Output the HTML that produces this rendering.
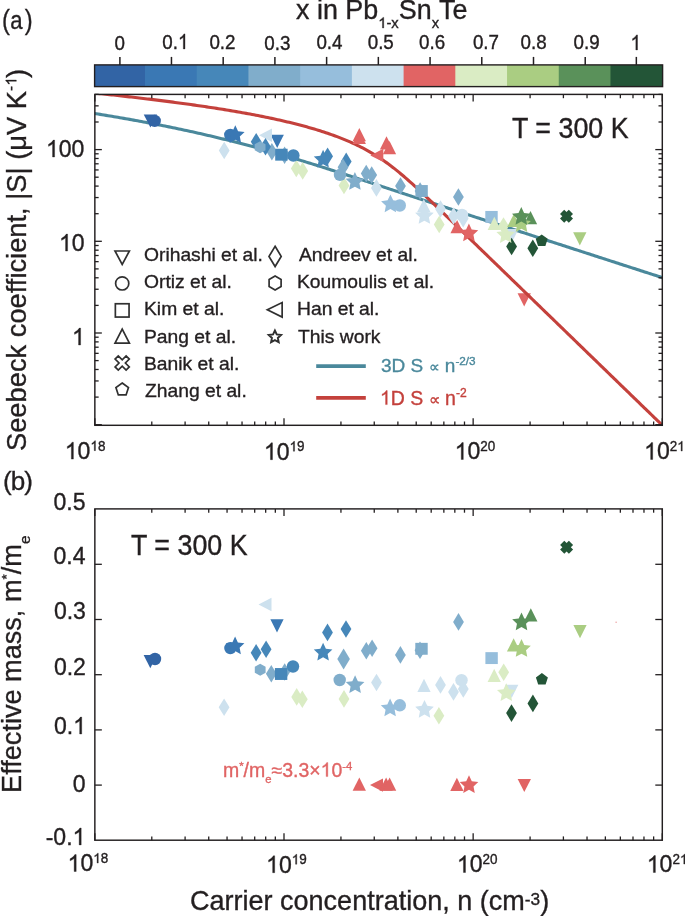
<!DOCTYPE html>
<html><head><meta charset="utf-8"><style>
html,body{margin:0;padding:0;background:#fff;}
svg{display:block;will-change:transform;font-family:"Liberation Sans",sans-serif;}
</style></head><body>
<svg width="685" height="916" viewBox="0 0 685 916" style='font-family:"Liberation Sans",sans-serif;'>
<rect width="685" height="916" fill="#fff"/>
<rect x="94.60" y="64.90" width="51.40" height="21.70" fill="#3264a5"/>
<rect x="145.00" y="64.90" width="52.72" height="21.70" fill="#3a78b4"/>
<rect x="196.72" y="64.90" width="52.72" height="21.70" fill="#4687b9"/>
<rect x="248.44" y="64.90" width="52.72" height="21.70" fill="#80adcb"/>
<rect x="300.16" y="64.90" width="52.72" height="21.70" fill="#96bedc"/>
<rect x="351.88" y="64.90" width="52.72" height="21.70" fill="#cde1ee"/>
<rect x="403.60" y="64.90" width="52.72" height="21.70" fill="#e16464"/>
<rect x="455.32" y="64.90" width="52.72" height="21.70" fill="#daecc4"/>
<rect x="507.04" y="64.90" width="52.72" height="21.70" fill="#aacd82"/>
<rect x="558.76" y="64.90" width="52.72" height="21.70" fill="#5a915a"/>
<rect x="610.48" y="64.90" width="52.12" height="21.70" fill="#235537"/>
<rect x="94.60" y="64.90" width="568.00" height="21.70" fill="none" stroke="#231f20" stroke-width="1.4"/>
<line x1="119.90" y1="56.90" x2="119.90" y2="64.90" stroke="#231f20" stroke-width="1.5"/>
<line x1="171.46" y1="56.90" x2="171.46" y2="64.90" stroke="#231f20" stroke-width="1.5"/>
<line x1="223.18" y1="56.90" x2="223.18" y2="64.90" stroke="#231f20" stroke-width="1.5"/>
<line x1="274.90" y1="56.90" x2="274.90" y2="64.90" stroke="#231f20" stroke-width="1.5"/>
<line x1="326.62" y1="56.90" x2="326.62" y2="64.90" stroke="#231f20" stroke-width="1.5"/>
<line x1="378.34" y1="56.90" x2="378.34" y2="64.90" stroke="#231f20" stroke-width="1.5"/>
<line x1="430.06" y1="56.90" x2="430.06" y2="64.90" stroke="#231f20" stroke-width="1.5"/>
<line x1="481.78" y1="56.90" x2="481.78" y2="64.90" stroke="#231f20" stroke-width="1.5"/>
<line x1="533.50" y1="56.90" x2="533.50" y2="64.90" stroke="#231f20" stroke-width="1.5"/>
<line x1="585.22" y1="56.90" x2="585.22" y2="64.90" stroke="#231f20" stroke-width="1.5"/>
<line x1="636.34" y1="56.90" x2="636.34" y2="64.90" stroke="#231f20" stroke-width="1.5"/>
<clipPath id="clipA"><rect x="94.85" y="94.4" width="567.4499999999999" height="330.9"/></clipPath><g clip-path="url(#clipA)" fill="none" stroke-linejoin="round"><path d="M66.58,109.25 L68.55,109.54 L70.53,109.83 L72.51,110.12 L74.49,110.41 L76.46,110.71 L78.44,111.00 L80.41,111.30 L82.39,111.60 L84.36,111.90 L86.34,112.21 L88.32,112.51 L90.29,112.82 L92.26,113.13 L94.24,113.44 L96.21,113.75 L98.18,114.07 L100.16,114.39 L102.13,114.71 L104.10,115.03 L106.07,115.35 L108.05,115.68 L110.02,116.00 L111.99,116.33 L113.96,116.67 L115.93,117.00 L117.90,117.34 L119.87,117.67 L121.84,118.01 L123.81,118.35 L125.77,118.70 L127.74,119.05 L129.71,119.40 L131.68,119.75 L133.64,120.10 L135.61,120.46 L137.57,120.82 L139.54,121.18 L141.50,121.54 L143.47,121.90 L145.43,122.28 L147.40,122.65 L149.36,123.02 L151.32,123.39 L153.29,123.77 L155.25,124.15 L157.21,124.53 L159.17,124.92 L161.13,125.31 L163.09,125.69 L165.05,126.09 L167.01,126.48 L168.97,126.88 L170.92,127.28 L172.88,127.69 L174.84,128.09 L176.79,128.50 L178.75,128.91 L180.70,129.32 L182.66,129.74 L184.61,130.16 L186.57,130.58 L188.52,131.01 L190.47,131.43 L192.42,131.86 L194.37,132.29 L196.32,132.73 L198.27,133.17 L200.22,133.61 L202.17,134.05 L204.12,134.50 L206.06,134.95 L208.01,135.40 L209.96,135.86 L211.90,136.31 L213.85,136.77 L215.79,137.24 L217.73,137.70 L219.68,138.17 L221.62,138.65 L223.56,139.12 L225.50,139.60 L227.44,140.08 L229.38,140.56 L231.32,141.05 L233.25,141.54 L235.19,142.03 L237.13,142.52 L239.06,143.02 L241.00,143.52 L242.93,144.03 L244.86,144.53 L246.79,145.04 L248.73,145.56 L250.66,146.07 L252.59,146.59 L254.52,147.11 L256.44,147.63 L258.37,148.16 L260.30,148.69 L262.23,149.22 L264.15,149.75 L266.08,150.29 L268.00,150.83 L269.92,151.37 L271.85,151.91 L273.77,152.46 L275.69,153.01 L277.61,153.56 L279.53,154.12 L281.45,154.67 L283.37,155.23 L285.28,155.80 L287.20,156.36 L289.12,156.93 L291.03,157.50 L292.95,158.07 L294.86,158.64 L296.78,159.22 L298.69,159.79 L300.60,160.37 L302.51,160.96 L304.42,161.54 L306.33,162.13 L308.24,162.71 L310.15,163.30 L312.06,163.89 L313.97,164.49 L315.88,165.08 L317.79,165.68 L319.69,166.28 L321.60,166.88 L323.50,167.48 L325.41,168.08 L327.31,168.69 L329.22,169.29 L331.12,169.90 L333.02,170.51 L334.93,171.12 L336.83,171.73 L338.73,172.34 L340.63,172.95 L342.54,173.57 L344.44,174.18 L346.34,174.80 L348.24,175.42 L350.14,176.03 L352.04,176.65 L353.94,177.27 L355.84,177.89 L357.74,178.51 L359.64,179.13 L361.54,179.75 L363.44,180.38 L365.33,181.00 L367.23,181.62 L369.13,182.24 L371.03,182.87 L372.93,183.49 L374.83,184.12 L376.73,184.74 L378.62,185.36 L380.52,185.99 L382.42,186.61 L384.32,187.24 L386.22,187.86 L388.11,188.49 L390.01,189.11 L391.91,189.74 L393.81,190.36 L395.71,190.99 L397.60,191.61 L399.50,192.24 L401.40,192.86 L403.30,193.49 L405.20,194.11 L407.09,194.74 L408.99,195.36 L410.89,195.99 L412.79,196.61 L414.69,197.23 L416.59,197.86 L418.48,198.48 L420.38,199.10 L422.28,199.73 L424.18,200.35 L426.08,200.97 L427.98,201.60 L429.88,202.22 L431.78,202.84 L433.67,203.46 L435.57,204.08 L437.47,204.71 L439.37,205.33 L441.27,205.95 L443.17,206.57 L445.07,207.19 L446.97,207.81 L448.87,208.43 L450.77,209.05 L452.67,209.67 L454.57,210.29 L456.47,210.91 L458.37,211.53 L460.27,212.15 L462.17,212.77 L464.07,213.39 L465.97,214.01 L467.87,214.63 L469.77,215.25 L471.67,215.87 L473.57,216.48 L475.47,217.10 L477.37,217.72 L479.27,218.34 L481.17,218.96 L483.07,219.58 L484.97,220.19 L486.87,220.81 L488.77,221.43 L490.67,222.05 L492.57,222.66 L494.47,223.28 L496.37,223.90 L498.27,224.52 L500.17,225.13 L502.07,225.75 L503.97,226.37 L505.87,226.98 L507.77,227.60 L509.68,228.22 L511.58,228.83 L513.48,229.45 L515.38,230.07 L517.28,230.68 L519.18,231.30 L521.08,231.92 L522.98,232.53 L524.88,233.15 L526.78,233.77 L528.68,234.38 L530.58,235.00 L532.49,235.61 L534.39,236.23 L536.29,236.85 L538.19,237.46 L540.09,238.08 L541.99,238.69 L543.89,239.31 L545.79,239.93 L547.69,240.54 L549.59,241.16 L551.50,241.77 L553.40,242.39 L555.30,243.00 L557.20,243.62 L559.10,244.24 L561.00,244.85 L562.90,245.47 L564.80,246.08 L566.70,246.70 L568.61,247.31 L570.51,247.93 L572.41,248.54 L574.31,249.16 L576.21,249.77 L578.11,250.39 L580.01,251.00 L581.91,251.62 L583.81,252.23 L585.72,252.85 L587.62,253.47 L589.52,254.08 L591.42,254.70 L593.32,255.31 L595.22,255.93 L597.12,256.54 L599.02,257.16 L600.93,257.77 L602.83,258.39 L604.73,259.00 L606.63,259.62 L608.53,260.23 L610.43,260.85 L612.33,261.46 L614.23,262.08 L616.14,262.69 L618.04,263.31 L619.94,263.92 L621.84,264.54 L623.74,265.15 L625.64,265.77 L627.54,266.38 L629.45,267.00 L631.35,267.61 L633.25,268.22 L635.15,268.84 L637.05,269.45 L638.95,270.07 L640.85,270.68 L642.75,271.30 L644.66,271.91 L646.56,272.53 L648.46,273.14 L650.36,273.76 L652.26,274.37 L654.16,274.99 L656.06,275.60 L657.97,276.22 L659.87,276.83 L661.77,277.45 L663.67,278.06 L665.57,278.68 L667.47,279.29 L669.37,279.91 L671.27,280.52 L673.18,281.13 L675.08,281.75 L676.98,282.36 L678.88,282.98 L680.78,283.59 L682.68,284.21 L684.58,284.82 L686.49,285.44 L688.39,286.05 L690.29,286.67 L692.19,287.28 L694.09,287.90" stroke="#4a889b" stroke-width="3.1"/></g><path d="M143.75,114.40 L157.05,114.40 L150.40,127.60Z" fill="#3264a5"/><path d="M270.55,134.80 L283.85,134.80 L277.20,148.00Z" fill="#3a78b4"/><path d="M505.35,228.90 L518.65,228.90 L512.00,242.10Z" fill="#cde1ee"/><path d="M573.15,232.20 L586.45,232.20 L579.80,245.40Z" fill="#aacd82"/><path d="M517.55,293.20 L530.85,293.20 L524.20,306.40Z" fill="#e16464"/><g clip-path="url(#clipA)" fill="none" stroke-linejoin="round"><path d="M71.73,90.82 L73.72,91.02 L75.71,91.21 L77.70,91.41 L79.69,91.60 L81.68,91.80 L83.66,92.00 L85.65,92.19 L87.64,92.39 L89.63,92.59 L91.62,92.80 L93.61,93.00 L95.60,93.20 L97.59,93.41 L99.58,93.61 L101.57,93.82 L103.55,94.02 L105.54,94.24 L107.53,94.45 L109.52,94.66 L111.51,94.87 L113.49,95.08 L115.48,95.30 L117.47,95.52 L119.46,95.73 L121.44,95.95 L123.43,96.17 L125.42,96.39 L127.41,96.62 L129.39,96.84 L131.38,97.07 L133.37,97.29 L135.35,97.52 L137.34,97.75 L139.32,97.98 L141.31,98.22 L143.30,98.45 L145.28,98.69 L147.27,98.92 L149.25,99.16 L151.24,99.40 L153.22,99.64 L155.20,99.89 L157.19,100.13 L159.17,100.38 L161.16,100.63 L163.14,100.88 L165.12,101.13 L167.11,101.38 L169.09,101.64 L171.07,101.90 L173.06,102.15 L175.04,102.42 L177.02,102.68 L179.00,102.94 L180.98,103.21 L182.96,103.48 L184.94,103.75 L186.93,104.02 L188.91,104.30 L190.89,104.57 L192.87,104.85 L194.84,105.13 L196.82,105.42 L198.80,105.70 L200.78,105.99 L202.76,106.28 L204.74,106.58 L206.71,106.87 L208.69,107.17 L210.67,107.47 L212.64,107.77 L214.62,108.08 L216.60,108.39 L218.57,108.70 L220.54,109.01 L222.52,109.33 L224.49,109.65 L226.47,109.97 L228.44,110.29 L230.41,110.63 L232.38,110.96 L234.35,111.29 L236.32,111.63 L238.29,111.98 L240.26,112.32 L242.23,112.67 L244.20,113.02 L246.17,113.38 L248.13,113.74 L250.10,114.10 L252.06,114.47 L254.03,114.84 L255.99,115.22 L257.95,115.60 L259.92,115.98 L261.88,116.37 L263.84,116.77 L265.80,117.16 L267.75,117.57 L269.71,117.98 L271.67,118.39 L273.62,118.81 L275.58,119.23 L277.53,119.66 L279.48,120.10 L281.43,120.53 L283.38,120.98 L285.33,121.43 L287.28,121.89 L289.22,122.36 L291.16,122.83 L293.10,123.30 L295.04,123.79 L296.98,124.28 L298.92,124.78 L300.85,125.29 L302.78,125.80 L304.71,126.32 L306.64,126.85 L308.57,127.39 L310.49,127.94 L312.41,128.50 L314.33,129.06 L316.24,129.64 L318.15,130.22 L320.06,130.81 L321.97,131.42 L323.87,132.04 L325.77,132.66 L327.66,133.30 L329.56,133.95 L331.44,134.61 L333.33,135.28 L335.20,135.97 L337.08,136.66 L338.94,137.38 L340.81,138.10 L342.67,138.84 L344.52,139.59 L346.36,140.36 L348.20,141.14 L350.04,141.94 L351.86,142.76 L353.68,143.58 L355.49,144.43 L357.30,145.30 L359.09,146.17 L360.88,147.07 L362.66,147.98 L364.43,148.92 L366.19,149.86 L367.94,150.83 L369.68,151.82 L371.41,152.82 L373.13,153.84 L374.83,154.88 L376.53,155.93 L378.22,157.01 L379.89,158.10 L381.56,159.20 L383.21,160.33 L384.85,161.47 L386.48,162.63 L388.10,163.80 L389.71,164.99 L391.31,166.19 L392.89,167.41 L394.47,168.64 L396.03,169.89 L397.59,171.14 L399.13,172.41 L400.67,173.69 L402.20,174.98 L403.72,176.27 L405.24,177.58 L406.74,178.90 L408.24,180.22 L409.73,181.55 L411.22,182.88 L412.70,184.22 L414.18,185.57 L415.66,186.92 L417.13,188.28 L418.59,189.64 L420.06,191.00 L421.52,192.36 L422.97,193.73 L424.43,195.10 L425.88,196.48 L427.33,197.85 L428.79,199.23 L430.23,200.60 L431.68,201.98 L433.13,203.36 L434.57,204.74 L436.02,206.12 L437.46,207.51 L438.91,208.89 L440.35,210.27 L441.79,211.66 L443.23,213.04 L444.68,214.43 L446.12,215.82 L447.56,217.20 L449.00,218.59 L450.44,219.98 L451.88,221.36 L453.32,222.75 L454.76,224.14 L456.19,225.53 L457.63,226.92 L459.07,228.30 L460.51,229.69 L461.95,231.08 L463.38,232.47 L464.82,233.86 L466.26,235.25 L467.70,236.64 L469.13,238.03 L470.57,239.42 L472.01,240.81 L473.44,242.20 L474.88,243.59 L476.32,244.98 L477.75,246.37 L479.19,247.76 L480.63,249.15 L482.06,250.55 L483.50,251.94 L484.94,253.33 L486.37,254.72 L487.81,256.11 L489.24,257.50 L490.68,258.89 L492.12,260.28 L493.55,261.67 L494.99,263.06 L496.42,264.46 L497.86,265.85 L499.30,267.24 L500.73,268.63 L502.17,270.02 L503.60,271.41 L505.04,272.80 L506.47,274.20 L507.91,275.59 L509.35,276.98 L510.78,278.37 L512.22,279.76 L513.65,281.15 L515.09,282.54 L516.52,283.94 L517.96,285.33 L519.39,286.72 L520.83,288.11 L522.27,289.50 L523.70,290.89 L525.14,292.29 L526.57,293.68 L528.01,295.07 L529.44,296.46 L530.88,297.85 L532.31,299.24 L533.75,300.64 L535.18,302.03 L536.62,303.42 L538.06,304.81 L539.49,306.20 L540.93,307.59 L542.36,308.99 L543.80,310.38 L545.23,311.77 L546.67,313.16 L548.10,314.55 L549.54,315.94 L550.97,317.34 L552.41,318.73 L553.85,320.12 L555.28,321.51 L556.72,322.90 L558.15,324.30 L559.59,325.69 L561.02,327.08 L562.46,328.47 L563.89,329.86 L565.33,331.25 L566.76,332.65 L568.20,334.04 L569.63,335.43 L571.07,336.82 L572.51,338.21 L573.94,339.60 L575.38,341.00 L576.81,342.39 L578.25,343.78 L579.68,345.17 L581.12,346.56 L582.55,347.95 L583.99,349.35 L585.42,350.74 L586.86,352.13 L588.29,353.52 L589.73,354.91 L591.17,356.30 L592.60,357.70 L594.04,359.09 L595.47,360.48 L596.91,361.87 L598.34,363.26 L599.78,364.66 L601.21,366.05 L602.65,367.44 L604.08,368.83 L605.52,370.22 L606.95,371.61 L608.39,373.01 L609.83,374.40 L611.26,375.79 L612.70,377.18 L614.13,378.57 L615.57,379.96 L617.00,381.36 L618.44,382.75 L619.87,384.14 L621.31,385.53 L622.74,386.92 L624.18,388.32 L625.61,389.71 L627.05,391.10 L628.49,392.49 L629.92,393.88 L631.36,395.27 L632.79,396.67 L634.23,398.06 L635.66,399.45 L637.10,400.84 L638.53,402.23 L639.97,403.62 L641.40,405.02 L642.84,406.41 L644.27,407.80 L645.71,409.19 L647.15,410.58 L648.58,411.97 L650.02,413.37 L651.45,414.76 L652.89,416.15 L654.32,417.54 L655.76,418.93 L657.19,420.33 L658.63,421.72 L660.06,423.11 L661.50,424.50 L662.93,425.89 L664.37,427.28 L665.81,428.68 L667.24,430.07 L668.68,431.46 L670.11,432.85 L671.55,434.24 L672.98,435.63 L674.42,437.03 L675.85,438.42 L677.29,439.81 L678.72,441.20 L680.16,442.59 L681.59,443.99 L683.03,445.38 L684.47,446.77 L685.90,448.16 L687.34,449.55 L688.77,450.94 L690.21,452.34 L691.64,453.73 L693.08,455.12 L694.51,456.51" stroke="#c4413c" stroke-width="3.1"/></g>
<path d="M272.00,128.60 L272.00,142.00 L259.00,135.30Z" fill="#cde1ee"/><path d="M383.30,148.70 L383.30,162.10 L370.30,155.40Z" fill="#e16464"/><path d="M224.20,141.70 L229.60,150.50 L224.20,159.30 L218.80,150.50Z" fill="#cde1ee"/><path d="M256.20,133.00 L261.60,141.80 L256.20,150.60 L250.80,141.80Z" fill="#4687b9"/><path d="M271.90,142.90 L277.30,151.70 L271.90,160.50 L266.50,151.70Z" fill="#80adcb"/><path d="M265.50,137.90 L270.90,146.70 L265.50,155.50 L260.10,146.70Z" fill="#4687b9"/><path d="M284.60,146.40 L290.00,155.20 L284.60,164.00 L279.20,155.20Z" fill="#80adcb"/><path d="M296.30,159.70 L301.70,168.50 L296.30,177.30 L290.90,168.50Z" fill="#daecc4"/><path d="M302.70,162.10 L308.10,170.90 L302.70,179.70 L297.30,170.90Z" fill="#daecc4"/><path d="M327.60,147.50 L333.00,156.30 L327.60,165.10 L322.20,156.30Z" fill="#4687b9"/><path d="M346.20,152.60 L351.60,161.40 L346.20,170.20 L340.80,161.40Z" fill="#4687b9"/><path d="M343.00,158.50 L348.40,167.30 L343.00,176.10 L337.60,167.30Z" fill="#80adcb"/><path d="M344.00,176.70 L349.40,185.50 L344.00,194.30 L338.60,185.50Z" fill="#daecc4"/><path d="M366.20,164.70 L371.60,173.50 L366.20,182.30 L360.80,173.50Z" fill="#80adcb"/><path d="M371.70,166.20 L377.10,175.00 L371.70,183.80 L366.30,175.00Z" fill="#80adcb"/><path d="M376.40,179.10 L381.80,187.90 L376.40,196.70 L371.00,187.90Z" fill="#cde1ee"/><path d="M400.50,177.20 L405.90,186.00 L400.50,194.80 L395.10,186.00Z" fill="#80adcb"/><path d="M420.10,182.20 L425.50,191.00 L420.10,199.80 L414.70,191.00Z" fill="#80adcb"/><path d="M440.50,200.20 L445.90,209.00 L440.50,217.80 L435.10,209.00Z" fill="#cde1ee"/><path d="M439.20,215.70 L444.60,224.50 L439.20,233.30 L433.80,224.50Z" fill="#daecc4"/><path d="M453.50,207.20 L458.90,216.00 L453.50,224.80 L448.10,216.00Z" fill="#cde1ee"/><path d="M463.20,209.80 L468.60,218.60 L463.20,227.40 L457.80,218.60Z" fill="#cde1ee"/><path d="M458.40,188.20 L463.80,197.00 L458.40,205.80 L453.00,197.00Z" fill="#80adcb"/><path d="M503.50,217.20 L508.90,226.00 L503.50,234.80 L498.10,226.00Z" fill="#daecc4"/><path d="M511.60,237.70 L517.00,246.50 L511.60,255.30 L506.20,246.50Z" fill="#235537"/><path d="M532.80,239.50 L538.20,248.30 L532.80,257.10 L527.40,248.30Z" fill="#235537"/><path d="M260.10,141.20 L265.50,144.20 L265.50,150.20 L260.10,153.20 L254.70,150.20 L254.70,144.20Z" fill="#80adcb"/><circle cx="154.70" cy="120.90" r="6.2" fill="#3264a5"/><circle cx="230.30" cy="135.00" r="6.2" fill="#3a78b4"/><circle cx="293.40" cy="155.50" r="6.2" fill="#4687b9"/><circle cx="340.00" cy="174.90" r="6.2" fill="#80adcb"/><circle cx="399.80" cy="205.50" r="6.2" fill="#96bedc"/><circle cx="462.00" cy="215.00" r="6.2" fill="#cde1ee"/><rect x="275.20" y="148.75" width="12.4" height="11.9" fill="#4687b9"/><rect x="415.40" y="185.05" width="12.4" height="11.9" fill="#80adcb"/><rect x="485.30" y="210.95" width="12.4" height="11.9" fill="#96bedc"/><path d="M352.65,141.20 L365.95,141.20 L359.30,128.00Z" fill="#e16464"/><path d="M352.65,144.10 L365.95,144.10 L359.30,130.90Z" fill="#e16464"/><path d="M379.85,149.40 L393.15,149.40 L386.50,136.20Z" fill="#e16464"/><path d="M382.85,154.20 L396.15,154.20 L389.50,141.00Z" fill="#e16464"/><path d="M450.45,233.20 L463.75,233.20 L457.10,220.00Z" fill="#e16464"/><path d="M417.15,212.10 L430.45,212.10 L423.80,198.90Z" fill="#cde1ee"/><path d="M487.65,229.90 L500.95,229.90 L494.30,216.70Z" fill="#daecc4"/><path d="M507.15,227.10 L520.45,227.10 L513.80,213.90Z" fill="#aacd82"/><path d="M523.85,224.20 L537.15,224.20 L530.50,211.00Z" fill="#5a915a"/><path d="M573.00,218.60 L568.80,222.80 L566.50,220.50 L564.20,222.80 L560.00,218.60 L562.30,216.30 L560.00,214.00 L564.20,209.80 L566.50,212.10 L568.80,209.80 L573.00,214.00 L570.70,216.30Z" fill="#235537"/><path d="M541.70,234.50 L547.69,238.85 L545.40,245.90 L538.00,245.90 L535.71,238.85Z" fill="#235537"/><path d="M235.30,125.30 L238.09,131.26 L244.62,132.07 L239.82,136.57 L241.06,143.03 L235.30,139.85 L229.54,143.03 L230.78,136.57 L225.98,132.07 L232.51,131.26Z" fill="#3a78b4"/><path d="M323.10,149.70 L325.89,155.66 L332.42,156.47 L327.62,160.97 L328.86,167.43 L323.10,164.25 L317.34,167.43 L318.58,160.97 L313.78,156.47 L320.31,155.66Z" fill="#4687b9"/><path d="M354.90,172.10 L357.69,178.06 L364.22,178.87 L359.42,183.37 L360.66,189.83 L354.90,186.65 L349.14,189.83 L350.38,183.37 L345.58,178.87 L352.11,178.06Z" fill="#80adcb"/><path d="M390.40,194.40 L393.19,200.36 L399.72,201.17 L394.92,205.67 L396.16,212.13 L390.40,208.95 L384.64,212.13 L385.88,205.67 L381.08,201.17 L387.61,200.36Z" fill="#96bedc"/><path d="M424.40,206.10 L427.19,212.06 L433.72,212.87 L428.92,217.37 L430.16,223.83 L424.40,220.65 L418.64,223.83 L419.88,217.37 L415.08,212.87 L421.61,212.06Z" fill="#cde1ee"/><path d="M468.90,223.50 L471.69,229.46 L478.22,230.27 L473.42,234.77 L474.66,241.23 L468.90,238.05 L463.14,241.23 L464.38,234.77 L459.58,230.27 L466.11,229.46Z" fill="#e16464"/><path d="M505.70,225.20 L508.49,231.16 L515.02,231.97 L510.22,236.47 L511.46,242.93 L505.70,239.75 L499.94,242.93 L501.18,236.47 L496.38,231.97 L502.91,231.16Z" fill="#daecc4"/><path d="M521.50,214.20 L524.29,220.16 L530.82,220.97 L526.02,225.47 L527.26,231.93 L521.50,228.75 L515.74,231.93 L516.98,225.47 L512.18,220.97 L518.71,220.16Z" fill="#aacd82"/><path d="M521.30,207.00 L524.09,212.96 L530.62,213.77 L525.82,218.27 L527.06,224.73 L521.30,221.55 L515.54,224.73 L516.78,218.27 L511.98,213.77 L518.51,212.96Z" fill="#5a915a"/>
<path d="M143.65,655.00 L156.95,655.00 L150.30,668.20Z" fill="#3264a5"/><path d="M270.35,619.20 L283.65,619.20 L277.00,632.40Z" fill="#3a78b4"/><path d="M505.05,684.70 L518.35,684.70 L511.70,697.90Z" fill="#cde1ee"/><path d="M573.35,625.10 L586.65,625.10 L580.00,638.30Z" fill="#aacd82"/><path d="M517.65,778.90 L530.95,778.90 L524.30,792.10Z" fill="#e16464"/><path d="M271.50,597.80 L271.50,611.20 L258.50,604.50Z" fill="#cde1ee"/><path d="M383.00,778.40 L383.00,791.80 L370.00,785.10Z" fill="#e16464"/><path d="M224.10,698.50 L229.50,707.30 L224.10,716.10 L218.70,707.30Z" fill="#cde1ee"/><path d="M256.10,644.00 L261.50,652.80 L256.10,661.60 L250.70,652.80Z" fill="#4687b9"/><path d="M271.30,665.00 L276.70,673.80 L271.30,682.60 L265.90,673.80Z" fill="#80adcb"/><path d="M266.10,640.50 L271.50,649.30 L266.10,658.10 L260.70,649.30Z" fill="#4687b9"/><path d="M284.70,663.20 L290.10,672.00 L284.70,680.80 L279.30,672.00Z" fill="#80adcb"/><path d="M296.70,688.10 L302.10,696.90 L296.70,705.70 L291.30,696.90Z" fill="#daecc4"/><path d="M302.30,690.50 L307.70,699.30 L302.30,708.10 L296.90,699.30Z" fill="#daecc4"/><path d="M327.50,623.60 L332.90,632.40 L327.50,641.20 L322.10,632.40Z" fill="#4687b9"/><path d="M346.00,620.20 L351.40,629.00 L346.00,637.80 L340.60,629.00Z" fill="#4687b9"/><path d="M343.60,648.50 L349.90,659.00 L343.60,669.50 L337.30,659.00Z" fill="#80adcb"/><path d="M344.00,690.10 L349.40,698.90 L344.00,707.70 L338.60,698.90Z" fill="#daecc4"/><path d="M366.30,642.00 L371.70,650.80 L366.30,659.60 L360.90,650.80Z" fill="#80adcb"/><path d="M372.10,639.50 L377.50,648.30 L372.10,657.10 L366.70,648.30Z" fill="#80adcb"/><path d="M376.50,673.70 L381.90,682.50 L376.50,691.30 L371.10,682.50Z" fill="#cde1ee"/><path d="M400.40,646.10 L405.80,654.90 L400.40,663.70 L395.00,654.90Z" fill="#80adcb"/><path d="M420.00,641.40 L425.40,650.20 L420.00,659.00 L414.60,650.20Z" fill="#80adcb"/><path d="M440.50,676.10 L445.90,684.90 L440.50,693.70 L435.10,684.90Z" fill="#cde1ee"/><path d="M438.90,707.00 L444.30,715.80 L438.90,724.60 L433.50,715.80Z" fill="#daecc4"/><path d="M453.50,683.10 L458.90,691.90 L453.50,700.70 L448.10,691.90Z" fill="#cde1ee"/><path d="M463.30,680.10 L468.70,688.90 L463.30,697.70 L457.90,688.90Z" fill="#cde1ee"/><path d="M458.50,613.10 L463.90,621.90 L458.50,630.70 L453.10,621.90Z" fill="#80adcb"/><path d="M503.70,663.50 L509.10,672.30 L503.70,681.10 L498.30,672.30Z" fill="#daecc4"/><path d="M511.50,704.30 L516.90,713.10 L511.50,721.90 L506.10,713.10Z" fill="#235537"/><path d="M532.90,694.60 L538.30,703.40 L532.90,712.20 L527.50,703.40Z" fill="#235537"/><path d="M260.20,663.70 L265.60,666.70 L265.60,672.70 L260.20,675.70 L254.80,672.70 L254.80,666.70Z" fill="#80adcb"/><circle cx="155.00" cy="659.00" r="6.2" fill="#3264a5"/><circle cx="230.40" cy="648.10" r="6.2" fill="#3a78b4"/><circle cx="293.00" cy="666.50" r="6.2" fill="#4687b9"/><circle cx="339.70" cy="680.00" r="6.2" fill="#80adcb"/><circle cx="399.80" cy="705.30" r="6.2" fill="#96bedc"/><circle cx="461.50" cy="680.20" r="6.2" fill="#cde1ee"/><rect x="274.90" y="668.05" width="12.4" height="11.9" fill="#4687b9"/><rect x="415.30" y="642.85" width="12.4" height="11.9" fill="#80adcb"/><rect x="485.40" y="652.15" width="12.4" height="11.9" fill="#96bedc"/><path d="M352.65,790.70 L365.95,790.70 L359.30,777.50Z" fill="#e16464"/><path d="M379.45,790.70 L392.75,790.70 L386.10,777.50Z" fill="#e16464"/><path d="M382.95,790.70 L396.25,790.70 L389.60,777.50Z" fill="#e16464"/><path d="M450.25,790.90 L463.55,790.90 L456.90,777.70Z" fill="#e16464"/><path d="M417.35,691.90 L430.65,691.90 L424.00,678.70Z" fill="#cde1ee"/><path d="M487.55,681.90 L500.85,681.90 L494.20,668.70Z" fill="#daecc4"/><path d="M506.95,651.50 L520.25,651.50 L513.60,638.30Z" fill="#aacd82"/><path d="M524.15,621.40 L537.45,621.40 L530.80,608.20Z" fill="#5a915a"/><path d="M573.10,549.60 L568.90,553.80 L566.60,551.50 L564.30,553.80 L560.10,549.60 L562.40,547.30 L560.10,545.00 L564.30,540.80 L566.60,543.10 L568.90,540.80 L573.10,545.00 L570.80,547.30Z" fill="#235537"/><path d="M541.90,673.10 L547.89,677.45 L545.60,684.50 L538.20,684.50 L535.91,677.45Z" fill="#235537"/><path d="M235.10,636.50 L237.89,642.46 L244.42,643.27 L239.62,647.77 L240.86,654.23 L235.10,651.05 L229.34,654.23 L230.58,647.77 L225.78,643.27 L232.31,642.46Z" fill="#3a78b4"/><path d="M323.10,642.70 L325.89,648.66 L332.42,649.47 L327.62,653.97 L328.86,660.43 L323.10,657.25 L317.34,660.43 L318.58,653.97 L313.78,649.47 L320.31,648.66Z" fill="#4687b9"/><path d="M355.10,675.20 L357.89,681.16 L364.42,681.97 L359.62,686.47 L360.86,692.93 L355.10,689.75 L349.34,692.93 L350.58,686.47 L345.78,681.97 L352.31,681.16Z" fill="#80adcb"/><path d="M390.10,698.50 L392.89,704.46 L399.42,705.27 L394.62,709.77 L395.86,716.23 L390.10,713.05 L384.34,716.23 L385.58,709.77 L380.78,705.27 L387.31,704.46Z" fill="#96bedc"/><path d="M424.50,699.90 L427.29,705.86 L433.82,706.67 L429.02,711.17 L430.26,717.63 L424.50,714.45 L418.74,717.63 L419.98,711.17 L415.18,706.67 L421.71,705.86Z" fill="#cde1ee"/><path d="M469.00,775.30 L471.79,781.26 L478.32,782.07 L473.52,786.57 L474.76,793.03 L469.00,789.85 L463.24,793.03 L464.48,786.57 L459.68,782.07 L466.21,781.26Z" fill="#e16464"/><path d="M506.30,683.30 L509.09,689.26 L515.62,690.07 L510.82,694.57 L512.06,701.03 L506.30,697.85 L500.54,701.03 L501.78,694.57 L496.98,690.07 L503.51,689.26Z" fill="#daecc4"/><path d="M521.50,639.10 L524.29,645.06 L530.82,645.87 L526.02,650.37 L527.26,656.83 L521.50,653.65 L515.74,656.83 L516.98,650.37 L512.18,645.87 L518.71,645.06Z" fill="#aacd82"/><path d="M521.50,612.50 L524.29,618.46 L530.82,619.27 L526.02,623.77 L527.26,630.23 L521.50,627.05 L515.74,630.23 L516.98,623.77 L512.18,619.27 L518.71,618.46Z" fill="#5a915a"/><rect x="615.6" y="621.7" width="1" height="1" fill="#e16464"/>
<path d="M115.00,251.00 L129.40,251.00 L122.20,264.40Z" fill="none" stroke="#303030" stroke-width="1.7" stroke-linejoin="miter"/><circle cx="122.2" cy="283.4" r="6.6" fill="none" stroke="#303030" stroke-width="1.7"/><rect x="115.35" y="303.75" width="13.7" height="13.3" fill="none" stroke="#303030" stroke-width="1.7"/><path d="M115.00,343.10 L129.40,343.10 L122.20,329.10Z" fill="none" stroke="#303030" stroke-width="1.7" stroke-linejoin="miter"/><path d="M129.31,366.92 L126.12,370.11 L122.20,366.18 L118.28,370.11 L115.09,366.92 L119.02,363.00 L115.09,359.08 L118.28,355.89 L122.20,359.82 L126.12,355.89 L129.31,359.08 L125.38,363.00Z" fill="none" stroke="#303030" stroke-width="1.7" stroke-linejoin="miter"/><path d="M122.20,383.00 L128.48,387.56 L126.08,394.94 L118.32,394.94 L115.92,387.56Z" fill="none" stroke="#303030" stroke-width="1.7" stroke-linejoin="miter"/><path d="M275.10,246.30 L281.20,256.40 L275.10,266.50 L269.00,256.40Z" fill="none" stroke="#303030" stroke-width="1.7" stroke-linejoin="miter"/><path d="M275.10,276.10 L281.10,279.55 L281.10,286.45 L275.10,289.90 L269.10,286.45 L269.10,279.55Z" fill="none" stroke="#303030" stroke-width="1.7" stroke-linejoin="miter"/><path d="M282.15,302.55 L282.15,317.05 L267.35,309.80Z" fill="none" stroke="#303030" stroke-width="1.7" stroke-linejoin="miter"/><path d="M274.90,330.50 L276.72,334.49 L281.08,334.99 L277.85,337.96 L278.72,342.26 L274.90,340.10 L271.08,342.26 L271.95,337.96 L268.72,334.99 L273.08,334.49Z" fill="none" stroke="#303030" stroke-width="1.9" stroke-linejoin="miter"/>
<rect x="94.85" y="94.40" width="567.45" height="330.90" fill="none" stroke="#231f20" stroke-width="1.45"/>
<line x1="94.85" y1="425.30" x2="94.85" y2="418.30" stroke="#231f20" stroke-width="1.3"/>
<line x1="94.85" y1="94.40" x2="94.85" y2="101.40" stroke="#231f20" stroke-width="1.3"/>
<line x1="151.79" y1="425.30" x2="151.79" y2="421.50" stroke="#231f20" stroke-width="1.3"/>
<line x1="151.79" y1="94.40" x2="151.79" y2="98.20" stroke="#231f20" stroke-width="1.3"/>
<line x1="185.10" y1="425.30" x2="185.10" y2="421.50" stroke="#231f20" stroke-width="1.3"/>
<line x1="185.10" y1="94.40" x2="185.10" y2="98.20" stroke="#231f20" stroke-width="1.3"/>
<line x1="208.73" y1="425.30" x2="208.73" y2="421.50" stroke="#231f20" stroke-width="1.3"/>
<line x1="208.73" y1="94.40" x2="208.73" y2="98.20" stroke="#231f20" stroke-width="1.3"/>
<line x1="227.06" y1="425.30" x2="227.06" y2="421.50" stroke="#231f20" stroke-width="1.3"/>
<line x1="227.06" y1="94.40" x2="227.06" y2="98.20" stroke="#231f20" stroke-width="1.3"/>
<line x1="242.04" y1="425.30" x2="242.04" y2="421.50" stroke="#231f20" stroke-width="1.3"/>
<line x1="242.04" y1="94.40" x2="242.04" y2="98.20" stroke="#231f20" stroke-width="1.3"/>
<line x1="254.70" y1="425.30" x2="254.70" y2="421.50" stroke="#231f20" stroke-width="1.3"/>
<line x1="254.70" y1="94.40" x2="254.70" y2="98.20" stroke="#231f20" stroke-width="1.3"/>
<line x1="265.67" y1="425.30" x2="265.67" y2="421.50" stroke="#231f20" stroke-width="1.3"/>
<line x1="265.67" y1="94.40" x2="265.67" y2="98.20" stroke="#231f20" stroke-width="1.3"/>
<line x1="275.34" y1="425.30" x2="275.34" y2="421.50" stroke="#231f20" stroke-width="1.3"/>
<line x1="275.34" y1="94.40" x2="275.34" y2="98.20" stroke="#231f20" stroke-width="1.3"/>
<line x1="284.00" y1="425.30" x2="284.00" y2="418.30" stroke="#231f20" stroke-width="1.3"/>
<line x1="284.00" y1="94.40" x2="284.00" y2="101.40" stroke="#231f20" stroke-width="1.3"/>
<line x1="340.94" y1="425.30" x2="340.94" y2="421.50" stroke="#231f20" stroke-width="1.3"/>
<line x1="340.94" y1="94.40" x2="340.94" y2="98.20" stroke="#231f20" stroke-width="1.3"/>
<line x1="374.25" y1="425.30" x2="374.25" y2="421.50" stroke="#231f20" stroke-width="1.3"/>
<line x1="374.25" y1="94.40" x2="374.25" y2="98.20" stroke="#231f20" stroke-width="1.3"/>
<line x1="397.88" y1="425.30" x2="397.88" y2="421.50" stroke="#231f20" stroke-width="1.3"/>
<line x1="397.88" y1="94.40" x2="397.88" y2="98.20" stroke="#231f20" stroke-width="1.3"/>
<line x1="416.21" y1="425.30" x2="416.21" y2="421.50" stroke="#231f20" stroke-width="1.3"/>
<line x1="416.21" y1="94.40" x2="416.21" y2="98.20" stroke="#231f20" stroke-width="1.3"/>
<line x1="431.19" y1="425.30" x2="431.19" y2="421.50" stroke="#231f20" stroke-width="1.3"/>
<line x1="431.19" y1="94.40" x2="431.19" y2="98.20" stroke="#231f20" stroke-width="1.3"/>
<line x1="443.85" y1="425.30" x2="443.85" y2="421.50" stroke="#231f20" stroke-width="1.3"/>
<line x1="443.85" y1="94.40" x2="443.85" y2="98.20" stroke="#231f20" stroke-width="1.3"/>
<line x1="454.82" y1="425.30" x2="454.82" y2="421.50" stroke="#231f20" stroke-width="1.3"/>
<line x1="454.82" y1="94.40" x2="454.82" y2="98.20" stroke="#231f20" stroke-width="1.3"/>
<line x1="464.49" y1="425.30" x2="464.49" y2="421.50" stroke="#231f20" stroke-width="1.3"/>
<line x1="464.49" y1="94.40" x2="464.49" y2="98.20" stroke="#231f20" stroke-width="1.3"/>
<line x1="473.15" y1="425.30" x2="473.15" y2="418.30" stroke="#231f20" stroke-width="1.3"/>
<line x1="473.15" y1="94.40" x2="473.15" y2="101.40" stroke="#231f20" stroke-width="1.3"/>
<line x1="530.09" y1="425.30" x2="530.09" y2="421.50" stroke="#231f20" stroke-width="1.3"/>
<line x1="530.09" y1="94.40" x2="530.09" y2="98.20" stroke="#231f20" stroke-width="1.3"/>
<line x1="563.40" y1="425.30" x2="563.40" y2="421.50" stroke="#231f20" stroke-width="1.3"/>
<line x1="563.40" y1="94.40" x2="563.40" y2="98.20" stroke="#231f20" stroke-width="1.3"/>
<line x1="587.03" y1="425.30" x2="587.03" y2="421.50" stroke="#231f20" stroke-width="1.3"/>
<line x1="587.03" y1="94.40" x2="587.03" y2="98.20" stroke="#231f20" stroke-width="1.3"/>
<line x1="605.36" y1="425.30" x2="605.36" y2="421.50" stroke="#231f20" stroke-width="1.3"/>
<line x1="605.36" y1="94.40" x2="605.36" y2="98.20" stroke="#231f20" stroke-width="1.3"/>
<line x1="620.34" y1="425.30" x2="620.34" y2="421.50" stroke="#231f20" stroke-width="1.3"/>
<line x1="620.34" y1="94.40" x2="620.34" y2="98.20" stroke="#231f20" stroke-width="1.3"/>
<line x1="633.00" y1="425.30" x2="633.00" y2="421.50" stroke="#231f20" stroke-width="1.3"/>
<line x1="633.00" y1="94.40" x2="633.00" y2="98.20" stroke="#231f20" stroke-width="1.3"/>
<line x1="643.97" y1="425.30" x2="643.97" y2="421.50" stroke="#231f20" stroke-width="1.3"/>
<line x1="643.97" y1="94.40" x2="643.97" y2="98.20" stroke="#231f20" stroke-width="1.3"/>
<line x1="653.64" y1="425.30" x2="653.64" y2="421.50" stroke="#231f20" stroke-width="1.3"/>
<line x1="653.64" y1="94.40" x2="653.64" y2="98.20" stroke="#231f20" stroke-width="1.3"/>
<line x1="662.30" y1="425.30" x2="662.30" y2="418.30" stroke="#231f20" stroke-width="1.3"/>
<line x1="662.30" y1="94.40" x2="662.30" y2="101.40" stroke="#231f20" stroke-width="1.3"/>
<line x1="94.85" y1="424.70" x2="101.85" y2="424.70" stroke="#231f20" stroke-width="1.3"/>
<line x1="662.30" y1="424.70" x2="655.30" y2="424.70" stroke="#231f20" stroke-width="1.3"/>
<line x1="94.85" y1="397.10" x2="98.65" y2="397.10" stroke="#231f20" stroke-width="1.3"/>
<line x1="662.30" y1="397.10" x2="658.50" y2="397.10" stroke="#231f20" stroke-width="1.3"/>
<line x1="94.85" y1="380.95" x2="98.65" y2="380.95" stroke="#231f20" stroke-width="1.3"/>
<line x1="662.30" y1="380.95" x2="658.50" y2="380.95" stroke="#231f20" stroke-width="1.3"/>
<line x1="94.85" y1="369.49" x2="98.65" y2="369.49" stroke="#231f20" stroke-width="1.3"/>
<line x1="662.30" y1="369.49" x2="658.50" y2="369.49" stroke="#231f20" stroke-width="1.3"/>
<line x1="94.85" y1="360.60" x2="98.65" y2="360.60" stroke="#231f20" stroke-width="1.3"/>
<line x1="662.30" y1="360.60" x2="658.50" y2="360.60" stroke="#231f20" stroke-width="1.3"/>
<line x1="94.85" y1="353.34" x2="98.65" y2="353.34" stroke="#231f20" stroke-width="1.3"/>
<line x1="662.30" y1="353.34" x2="658.50" y2="353.34" stroke="#231f20" stroke-width="1.3"/>
<line x1="94.85" y1="347.20" x2="98.65" y2="347.20" stroke="#231f20" stroke-width="1.3"/>
<line x1="662.30" y1="347.20" x2="658.50" y2="347.20" stroke="#231f20" stroke-width="1.3"/>
<line x1="94.85" y1="341.89" x2="98.65" y2="341.89" stroke="#231f20" stroke-width="1.3"/>
<line x1="662.30" y1="341.89" x2="658.50" y2="341.89" stroke="#231f20" stroke-width="1.3"/>
<line x1="94.85" y1="337.20" x2="98.65" y2="337.20" stroke="#231f20" stroke-width="1.3"/>
<line x1="662.30" y1="337.20" x2="658.50" y2="337.20" stroke="#231f20" stroke-width="1.3"/>
<line x1="94.85" y1="333.00" x2="101.85" y2="333.00" stroke="#231f20" stroke-width="1.3"/>
<line x1="662.30" y1="333.00" x2="655.30" y2="333.00" stroke="#231f20" stroke-width="1.3"/>
<line x1="94.85" y1="305.40" x2="98.65" y2="305.40" stroke="#231f20" stroke-width="1.3"/>
<line x1="662.30" y1="305.40" x2="658.50" y2="305.40" stroke="#231f20" stroke-width="1.3"/>
<line x1="94.85" y1="289.25" x2="98.65" y2="289.25" stroke="#231f20" stroke-width="1.3"/>
<line x1="662.30" y1="289.25" x2="658.50" y2="289.25" stroke="#231f20" stroke-width="1.3"/>
<line x1="94.85" y1="277.79" x2="98.65" y2="277.79" stroke="#231f20" stroke-width="1.3"/>
<line x1="662.30" y1="277.79" x2="658.50" y2="277.79" stroke="#231f20" stroke-width="1.3"/>
<line x1="94.85" y1="268.90" x2="98.65" y2="268.90" stroke="#231f20" stroke-width="1.3"/>
<line x1="662.30" y1="268.90" x2="658.50" y2="268.90" stroke="#231f20" stroke-width="1.3"/>
<line x1="94.85" y1="261.64" x2="98.65" y2="261.64" stroke="#231f20" stroke-width="1.3"/>
<line x1="662.30" y1="261.64" x2="658.50" y2="261.64" stroke="#231f20" stroke-width="1.3"/>
<line x1="94.85" y1="255.50" x2="98.65" y2="255.50" stroke="#231f20" stroke-width="1.3"/>
<line x1="662.30" y1="255.50" x2="658.50" y2="255.50" stroke="#231f20" stroke-width="1.3"/>
<line x1="94.85" y1="250.19" x2="98.65" y2="250.19" stroke="#231f20" stroke-width="1.3"/>
<line x1="662.30" y1="250.19" x2="658.50" y2="250.19" stroke="#231f20" stroke-width="1.3"/>
<line x1="94.85" y1="245.50" x2="98.65" y2="245.50" stroke="#231f20" stroke-width="1.3"/>
<line x1="662.30" y1="245.50" x2="658.50" y2="245.50" stroke="#231f20" stroke-width="1.3"/>
<line x1="94.85" y1="241.30" x2="101.85" y2="241.30" stroke="#231f20" stroke-width="1.3"/>
<line x1="662.30" y1="241.30" x2="655.30" y2="241.30" stroke="#231f20" stroke-width="1.3"/>
<line x1="94.85" y1="213.70" x2="98.65" y2="213.70" stroke="#231f20" stroke-width="1.3"/>
<line x1="662.30" y1="213.70" x2="658.50" y2="213.70" stroke="#231f20" stroke-width="1.3"/>
<line x1="94.85" y1="197.55" x2="98.65" y2="197.55" stroke="#231f20" stroke-width="1.3"/>
<line x1="662.30" y1="197.55" x2="658.50" y2="197.55" stroke="#231f20" stroke-width="1.3"/>
<line x1="94.85" y1="186.09" x2="98.65" y2="186.09" stroke="#231f20" stroke-width="1.3"/>
<line x1="662.30" y1="186.09" x2="658.50" y2="186.09" stroke="#231f20" stroke-width="1.3"/>
<line x1="94.85" y1="177.20" x2="98.65" y2="177.20" stroke="#231f20" stroke-width="1.3"/>
<line x1="662.30" y1="177.20" x2="658.50" y2="177.20" stroke="#231f20" stroke-width="1.3"/>
<line x1="94.85" y1="169.94" x2="98.65" y2="169.94" stroke="#231f20" stroke-width="1.3"/>
<line x1="662.30" y1="169.94" x2="658.50" y2="169.94" stroke="#231f20" stroke-width="1.3"/>
<line x1="94.85" y1="163.80" x2="98.65" y2="163.80" stroke="#231f20" stroke-width="1.3"/>
<line x1="662.30" y1="163.80" x2="658.50" y2="163.80" stroke="#231f20" stroke-width="1.3"/>
<line x1="94.85" y1="158.49" x2="98.65" y2="158.49" stroke="#231f20" stroke-width="1.3"/>
<line x1="662.30" y1="158.49" x2="658.50" y2="158.49" stroke="#231f20" stroke-width="1.3"/>
<line x1="94.85" y1="153.80" x2="98.65" y2="153.80" stroke="#231f20" stroke-width="1.3"/>
<line x1="662.30" y1="153.80" x2="658.50" y2="153.80" stroke="#231f20" stroke-width="1.3"/>
<line x1="94.85" y1="149.60" x2="101.85" y2="149.60" stroke="#231f20" stroke-width="1.3"/>
<line x1="662.30" y1="149.60" x2="655.30" y2="149.60" stroke="#231f20" stroke-width="1.3"/>
<line x1="94.85" y1="122.00" x2="98.65" y2="122.00" stroke="#231f20" stroke-width="1.3"/>
<line x1="662.30" y1="122.00" x2="658.50" y2="122.00" stroke="#231f20" stroke-width="1.3"/>
<line x1="94.85" y1="105.85" x2="98.65" y2="105.85" stroke="#231f20" stroke-width="1.3"/>
<line x1="662.30" y1="105.85" x2="658.50" y2="105.85" stroke="#231f20" stroke-width="1.3"/>
<line x1="94.85" y1="94.39" x2="98.65" y2="94.39" stroke="#231f20" stroke-width="1.3"/>
<line x1="662.30" y1="94.39" x2="658.50" y2="94.39" stroke="#231f20" stroke-width="1.3"/>
<rect x="94.85" y="508.90" width="567.45" height="331.30" fill="none" stroke="#231f20" stroke-width="1.45"/>
<line x1="94.85" y1="840.20" x2="94.85" y2="833.20" stroke="#231f20" stroke-width="1.3"/>
<line x1="94.85" y1="508.90" x2="94.85" y2="515.90" stroke="#231f20" stroke-width="1.3"/>
<line x1="151.79" y1="840.20" x2="151.79" y2="836.40" stroke="#231f20" stroke-width="1.3"/>
<line x1="151.79" y1="508.90" x2="151.79" y2="512.70" stroke="#231f20" stroke-width="1.3"/>
<line x1="185.10" y1="840.20" x2="185.10" y2="836.40" stroke="#231f20" stroke-width="1.3"/>
<line x1="185.10" y1="508.90" x2="185.10" y2="512.70" stroke="#231f20" stroke-width="1.3"/>
<line x1="208.73" y1="840.20" x2="208.73" y2="836.40" stroke="#231f20" stroke-width="1.3"/>
<line x1="208.73" y1="508.90" x2="208.73" y2="512.70" stroke="#231f20" stroke-width="1.3"/>
<line x1="227.06" y1="840.20" x2="227.06" y2="836.40" stroke="#231f20" stroke-width="1.3"/>
<line x1="227.06" y1="508.90" x2="227.06" y2="512.70" stroke="#231f20" stroke-width="1.3"/>
<line x1="242.04" y1="840.20" x2="242.04" y2="836.40" stroke="#231f20" stroke-width="1.3"/>
<line x1="242.04" y1="508.90" x2="242.04" y2="512.70" stroke="#231f20" stroke-width="1.3"/>
<line x1="254.70" y1="840.20" x2="254.70" y2="836.40" stroke="#231f20" stroke-width="1.3"/>
<line x1="254.70" y1="508.90" x2="254.70" y2="512.70" stroke="#231f20" stroke-width="1.3"/>
<line x1="265.67" y1="840.20" x2="265.67" y2="836.40" stroke="#231f20" stroke-width="1.3"/>
<line x1="265.67" y1="508.90" x2="265.67" y2="512.70" stroke="#231f20" stroke-width="1.3"/>
<line x1="275.34" y1="840.20" x2="275.34" y2="836.40" stroke="#231f20" stroke-width="1.3"/>
<line x1="275.34" y1="508.90" x2="275.34" y2="512.70" stroke="#231f20" stroke-width="1.3"/>
<line x1="284.00" y1="840.20" x2="284.00" y2="833.20" stroke="#231f20" stroke-width="1.3"/>
<line x1="284.00" y1="508.90" x2="284.00" y2="515.90" stroke="#231f20" stroke-width="1.3"/>
<line x1="340.94" y1="840.20" x2="340.94" y2="836.40" stroke="#231f20" stroke-width="1.3"/>
<line x1="340.94" y1="508.90" x2="340.94" y2="512.70" stroke="#231f20" stroke-width="1.3"/>
<line x1="374.25" y1="840.20" x2="374.25" y2="836.40" stroke="#231f20" stroke-width="1.3"/>
<line x1="374.25" y1="508.90" x2="374.25" y2="512.70" stroke="#231f20" stroke-width="1.3"/>
<line x1="397.88" y1="840.20" x2="397.88" y2="836.40" stroke="#231f20" stroke-width="1.3"/>
<line x1="397.88" y1="508.90" x2="397.88" y2="512.70" stroke="#231f20" stroke-width="1.3"/>
<line x1="416.21" y1="840.20" x2="416.21" y2="836.40" stroke="#231f20" stroke-width="1.3"/>
<line x1="416.21" y1="508.90" x2="416.21" y2="512.70" stroke="#231f20" stroke-width="1.3"/>
<line x1="431.19" y1="840.20" x2="431.19" y2="836.40" stroke="#231f20" stroke-width="1.3"/>
<line x1="431.19" y1="508.90" x2="431.19" y2="512.70" stroke="#231f20" stroke-width="1.3"/>
<line x1="443.85" y1="840.20" x2="443.85" y2="836.40" stroke="#231f20" stroke-width="1.3"/>
<line x1="443.85" y1="508.90" x2="443.85" y2="512.70" stroke="#231f20" stroke-width="1.3"/>
<line x1="454.82" y1="840.20" x2="454.82" y2="836.40" stroke="#231f20" stroke-width="1.3"/>
<line x1="454.82" y1="508.90" x2="454.82" y2="512.70" stroke="#231f20" stroke-width="1.3"/>
<line x1="464.49" y1="840.20" x2="464.49" y2="836.40" stroke="#231f20" stroke-width="1.3"/>
<line x1="464.49" y1="508.90" x2="464.49" y2="512.70" stroke="#231f20" stroke-width="1.3"/>
<line x1="473.15" y1="840.20" x2="473.15" y2="833.20" stroke="#231f20" stroke-width="1.3"/>
<line x1="473.15" y1="508.90" x2="473.15" y2="515.90" stroke="#231f20" stroke-width="1.3"/>
<line x1="530.09" y1="840.20" x2="530.09" y2="836.40" stroke="#231f20" stroke-width="1.3"/>
<line x1="530.09" y1="508.90" x2="530.09" y2="512.70" stroke="#231f20" stroke-width="1.3"/>
<line x1="563.40" y1="840.20" x2="563.40" y2="836.40" stroke="#231f20" stroke-width="1.3"/>
<line x1="563.40" y1="508.90" x2="563.40" y2="512.70" stroke="#231f20" stroke-width="1.3"/>
<line x1="587.03" y1="840.20" x2="587.03" y2="836.40" stroke="#231f20" stroke-width="1.3"/>
<line x1="587.03" y1="508.90" x2="587.03" y2="512.70" stroke="#231f20" stroke-width="1.3"/>
<line x1="605.36" y1="840.20" x2="605.36" y2="836.40" stroke="#231f20" stroke-width="1.3"/>
<line x1="605.36" y1="508.90" x2="605.36" y2="512.70" stroke="#231f20" stroke-width="1.3"/>
<line x1="620.34" y1="840.20" x2="620.34" y2="836.40" stroke="#231f20" stroke-width="1.3"/>
<line x1="620.34" y1="508.90" x2="620.34" y2="512.70" stroke="#231f20" stroke-width="1.3"/>
<line x1="633.00" y1="840.20" x2="633.00" y2="836.40" stroke="#231f20" stroke-width="1.3"/>
<line x1="633.00" y1="508.90" x2="633.00" y2="512.70" stroke="#231f20" stroke-width="1.3"/>
<line x1="643.97" y1="840.20" x2="643.97" y2="836.40" stroke="#231f20" stroke-width="1.3"/>
<line x1="643.97" y1="508.90" x2="643.97" y2="512.70" stroke="#231f20" stroke-width="1.3"/>
<line x1="653.64" y1="840.20" x2="653.64" y2="836.40" stroke="#231f20" stroke-width="1.3"/>
<line x1="653.64" y1="508.90" x2="653.64" y2="512.70" stroke="#231f20" stroke-width="1.3"/>
<line x1="662.30" y1="840.20" x2="662.30" y2="833.20" stroke="#231f20" stroke-width="1.3"/>
<line x1="662.30" y1="508.90" x2="662.30" y2="515.90" stroke="#231f20" stroke-width="1.3"/>
<line x1="94.85" y1="564.30" x2="101.85" y2="564.30" stroke="#231f20" stroke-width="1.3"/>
<line x1="662.30" y1="564.30" x2="655.30" y2="564.30" stroke="#231f20" stroke-width="1.3"/>
<line x1="94.85" y1="619.50" x2="101.85" y2="619.50" stroke="#231f20" stroke-width="1.3"/>
<line x1="662.30" y1="619.50" x2="655.30" y2="619.50" stroke="#231f20" stroke-width="1.3"/>
<line x1="94.85" y1="674.70" x2="101.85" y2="674.70" stroke="#231f20" stroke-width="1.3"/>
<line x1="662.30" y1="674.70" x2="655.30" y2="674.70" stroke="#231f20" stroke-width="1.3"/>
<line x1="94.85" y1="729.90" x2="101.85" y2="729.90" stroke="#231f20" stroke-width="1.3"/>
<line x1="662.30" y1="729.90" x2="655.30" y2="729.90" stroke="#231f20" stroke-width="1.3"/>
<line x1="94.85" y1="785.10" x2="101.85" y2="785.10" stroke="#231f20" stroke-width="1.3"/>
<line x1="662.30" y1="785.10" x2="655.30" y2="785.10" stroke="#231f20" stroke-width="1.3"/>
<line x1="316.2" y1="366.1" x2="365.8" y2="366.1" stroke="#4a889b" stroke-width="3.6"/>
<line x1="316.2" y1="397.9" x2="365.8" y2="397.9" stroke="#c4413c" stroke-width="3.6"/>
<text transform="translate(3.5,29.2) scale(0.85,1)" x="-1.74" y="0" font-size="28" fill="#231f20" stroke="#231f20" stroke-width="0.35">(</text><text transform="translate(31.3,29.2) scale(0.85,1)" x="-7.59" y="0" font-size="28" fill="#231f20" stroke="#231f20" stroke-width="0.35">)</text><text transform="translate(10.17,29.1) scale(0.843,1)" x="0" y="0" font-size="26.3" fill="#231f20" stroke="#231f20" stroke-width="0.35">a</text>
<g><text x="3.00" y="490.00" letter-spacing="-1.000" fill="#231f20" stroke="#231f20" stroke-width="0.35" ><tspan font-size="26.07" dy="0.00">(b)</tspan></text></g>
<g><text x="296.00" y="19.40" letter-spacing="0.000" fill="#231f20" stroke="#231f20" stroke-width="0.35" ><tspan font-size="26.90" dy="0.00">x in Pb</tspan><tspan font-size="14.79" dy="8.61"> -x</tspan><tspan font-size="26.90" dy="-8.61">Sn</tspan><tspan font-size="14.79" dy="8.61">x</tspan><tspan font-size="26.90" dy="-8.61">Te</tspan></text><path transform="translate(378.23,28.01) scale(0.00722,-0.00722)" d="M763,0 L583,0 L583,1147 Q520,1087 437,1037 Q310,962 223,930 L223,1104 Q374,1175 487,1276 Q600,1377 647,1472 L763,1472 Z" fill="#231f20" stroke="#231f20" stroke-width="48.45"/></g>
<g transform="translate(0,49.90) scale(1,1.11) translate(0,-49.90)"><text x="114.40" y="49.90" letter-spacing="0.000" fill="#231f20" stroke="#231f20" stroke-width="0.35" ><tspan font-size="18.80" dy="0.00">0</tspan></text></g>
<g transform="translate(0,48.90) scale(1,1.11) translate(0,-48.90)"><text x="162.30" y="48.90" letter-spacing="0.000" fill="#231f20" stroke="#231f20" stroke-width="0.35" ><tspan font-size="18.80" dy="0.00">0. </tspan></text><path transform="translate(177.98,48.90) scale(0.00918,-0.00918)" d="M763,0 L583,0 L583,1147 Q520,1087 437,1037 Q310,962 223,930 L223,1104 Q374,1175 487,1276 Q600,1377 647,1472 L763,1472 Z" fill="#231f20" stroke="#231f20" stroke-width="38.13"/></g>
<g transform="translate(0,48.90) scale(1,1.11) translate(0,-48.90)"><text x="209.40" y="48.90" letter-spacing="0.000" fill="#231f20" stroke="#231f20" stroke-width="0.35" ><tspan font-size="18.80" dy="0.00">0.2</tspan></text></g>
<g transform="translate(0,49.90) scale(1,1.11) translate(0,-49.90)"><text x="264.30" y="49.90" letter-spacing="0.000" fill="#231f20" stroke="#231f20" stroke-width="0.35" ><tspan font-size="18.80" dy="0.00">0.3</tspan></text></g>
<g transform="translate(0,48.90) scale(1,1.11) translate(0,-48.90)"><text x="316.40" y="48.90" letter-spacing="0.000" fill="#231f20" stroke="#231f20" stroke-width="0.35" ><tspan font-size="18.80" dy="0.00">0.4</tspan></text></g>
<g transform="translate(0,48.90) scale(1,1.11) translate(0,-48.90)"><text x="367.70" y="48.90" letter-spacing="0.000" fill="#231f20" stroke="#231f20" stroke-width="0.35" ><tspan font-size="18.80" dy="0.00">0.5</tspan></text></g>
<g transform="translate(0,48.90) scale(1,1.11) translate(0,-48.90)"><text x="419.10" y="48.90" letter-spacing="0.000" fill="#231f20" stroke="#231f20" stroke-width="0.35" ><tspan font-size="18.80" dy="0.00">0.6</tspan></text></g>
<g transform="translate(0,48.90) scale(1,1.11) translate(0,-48.90)"><text x="472.90" y="48.90" letter-spacing="0.000" fill="#231f20" stroke="#231f20" stroke-width="0.35" ><tspan font-size="18.80" dy="0.00">0.7</tspan></text></g>
<g transform="translate(0,48.90) scale(1,1.11) translate(0,-48.90)"><text x="520.50" y="48.90" letter-spacing="0.000" fill="#231f20" stroke="#231f20" stroke-width="0.35" ><tspan font-size="18.80" dy="0.00">0.8</tspan></text></g>
<g transform="translate(0,48.90) scale(1,1.11) translate(0,-48.90)"><text x="573.60" y="48.90" letter-spacing="0.000" fill="#231f20" stroke="#231f20" stroke-width="0.35" ><tspan font-size="18.80" dy="0.00">0.9</tspan></text></g>
<g transform="translate(0,49.90) scale(1,1.11) translate(0,-49.90)"><text x="630.50" y="49.90" letter-spacing="0.000" fill="#231f20" stroke="#231f20" stroke-width="0.35" ><tspan font-size="18.80" dy="0.00"> </tspan></text><path transform="translate(630.50,49.90) scale(0.00918,-0.00918)" d="M763,0 L583,0 L583,1147 Q520,1087 437,1037 Q310,962 223,930 L223,1104 Q374,1175 487,1276 Q600,1377 647,1472 L763,1472 Z" fill="#231f20" stroke="#231f20" stroke-width="38.13"/></g>
<g transform="translate(0,138.00) scale(1,1.075) translate(0,-138.00)"><text x="512.00" y="138.00" letter-spacing="0.000" fill="#231f20" stroke="#231f20" stroke-width="0.35" ><tspan font-size="26.83" dy="0.00">T = 300 K</tspan></text></g>
<g transform="translate(0,555.00) scale(1,1.075) translate(0,-555.00)"><text x="131.00" y="555.00" letter-spacing="0.000" fill="#231f20" stroke="#231f20" stroke-width="0.35" ><tspan font-size="26.83" dy="0.00">T = 300 K</tspan></text></g>
<g transform="translate(0,157.00) scale(1,1.02) translate(0,-157.00)"><text x="46.00" y="157.00" letter-spacing="0.000" fill="#231f20" stroke="#231f20" stroke-width="0.35" ><tspan font-size="23.05" dy="0.00"> 00</tspan></text><path transform="translate(46.00,157.00) scale(0.01125,-0.01125)" d="M763,0 L583,0 L583,1147 Q520,1087 437,1037 Q310,962 223,930 L223,1104 Q374,1175 487,1276 Q600,1377 647,1472 L763,1472 Z" fill="#231f20" stroke="#231f20" stroke-width="31.10"/></g>
<g transform="translate(0,251.00) scale(1,1.02) translate(0,-251.00)"><text x="59.00" y="251.00" letter-spacing="0.000" fill="#231f20" stroke="#231f20" stroke-width="0.35" ><tspan font-size="23.05" dy="0.00"> 0</tspan></text><path transform="translate(59.00,251.00) scale(0.01125,-0.01125)" d="M763,0 L583,0 L583,1147 Q520,1087 437,1037 Q310,962 223,930 L223,1104 Q374,1175 487,1276 Q600,1377 647,1472 L763,1472 Z" fill="#231f20" stroke="#231f20" stroke-width="31.10"/></g>
<g transform="translate(0,345.00) scale(1,1.02) translate(0,-345.00)"><text x="72.00" y="345.00" letter-spacing="0.000" fill="#231f20" stroke="#231f20" stroke-width="0.35" ><tspan font-size="23.05" dy="0.00"> </tspan></text><path transform="translate(72.00,345.00) scale(0.01125,-0.01125)" d="M763,0 L583,0 L583,1147 Q520,1087 437,1037 Q310,962 223,930 L223,1104 Q374,1175 487,1276 Q600,1377 647,1472 L763,1472 Z" fill="#231f20" stroke="#231f20" stroke-width="31.10"/></g>
<g transform="translate(0,510.00) scale(1,1.02) translate(0,-510.00)"><text x="53.50" y="510.00" letter-spacing="0.000" fill="#231f20" stroke="#231f20" stroke-width="0.35" ><tspan font-size="23.05" dy="0.00">0.5</tspan></text></g>
<g transform="translate(0,564.40) scale(1,1.02) translate(0,-564.40)"><text x="53.50" y="564.40" letter-spacing="0.000" fill="#231f20" stroke="#231f20" stroke-width="0.35" ><tspan font-size="23.05" dy="0.00">0.4</tspan></text></g>
<g transform="translate(0,618.90) scale(1,1.02) translate(0,-618.90)"><text x="53.90" y="618.90" letter-spacing="0.000" fill="#231f20" stroke="#231f20" stroke-width="0.35" ><tspan font-size="23.05" dy="0.00">0.3</tspan></text></g>
<g transform="translate(0,675.50) scale(1,1.02) translate(0,-675.50)"><text x="53.90" y="675.50" letter-spacing="0.000" fill="#231f20" stroke="#231f20" stroke-width="0.35" ><tspan font-size="23.05" dy="0.00">0.2</tspan></text></g>
<g transform="translate(0,734.00) scale(1,1.02) translate(0,-734.00)"><text x="53.90" y="734.00" letter-spacing="0.000" fill="#231f20" stroke="#231f20" stroke-width="0.35" ><tspan font-size="23.05" dy="0.00">0. </tspan></text><path transform="translate(73.12,734.00) scale(0.01125,-0.01125)" d="M763,0 L583,0 L583,1147 Q520,1087 437,1037 Q310,962 223,930 L223,1104 Q374,1175 487,1276 Q600,1377 647,1472 L763,1472 Z" fill="#231f20" stroke="#231f20" stroke-width="31.10"/></g>
<g transform="translate(0,791.80) scale(1,1.02) translate(0,-791.80)"><text x="72.80" y="791.80" letter-spacing="0.000" fill="#231f20" stroke="#231f20" stroke-width="0.35" ><tspan font-size="23.05" dy="0.00">0</tspan></text></g>
<g transform="translate(0,844.90) scale(1,1.02) translate(0,-844.90)"><text x="45.70" y="844.90" letter-spacing="0.000" fill="#231f20" stroke="#231f20" stroke-width="0.35" ><tspan font-size="23.05" dy="0.00">-0. </tspan></text><path transform="translate(72.60,844.90) scale(0.01125,-0.01125)" d="M763,0 L583,0 L583,1147 Q520,1087 437,1037 Q310,962 223,930 L223,1104 Q374,1175 487,1276 Q600,1377 647,1472 L763,1472 Z" fill="#231f20" stroke="#231f20" stroke-width="31.10"/></g>
<g transform="translate(0,459.10) scale(1,1.02) translate(0,-459.10)"><text x="64.80" y="459.10" letter-spacing="0.000" fill="#231f20" stroke="#231f20" stroke-width="0.35" ><tspan font-size="23.05" dy="0.00"> 0</tspan><tspan font-size="13.48" dy="-8.30"> 8</tspan></text><path transform="translate(64.80,459.10) scale(0.01125,-0.01125)" d="M763,0 L583,0 L583,1147 Q520,1087 437,1037 Q310,962 223,930 L223,1104 Q374,1175 487,1276 Q600,1377 647,1472 L763,1472 Z" fill="#231f20" stroke="#231f20" stroke-width="31.10"/><path transform="translate(90.44,450.80) scale(0.00658,-0.00658)" d="M763,0 L583,0 L583,1147 Q520,1087 437,1037 Q310,962 223,930 L223,1104 Q374,1175 487,1276 Q600,1377 647,1472 L763,1472 Z" fill="#231f20" stroke="#231f20" stroke-width="53.16"/></g>
<g transform="translate(0,459.70) scale(1,1.02) translate(0,-459.70)"><text x="263.90" y="459.70" letter-spacing="0.000" fill="#231f20" stroke="#231f20" stroke-width="0.35" ><tspan font-size="23.05" dy="0.00"> 0</tspan><tspan font-size="13.48" dy="-8.30"> 9</tspan></text><path transform="translate(263.90,459.70) scale(0.01125,-0.01125)" d="M763,0 L583,0 L583,1147 Q520,1087 437,1037 Q310,962 223,930 L223,1104 Q374,1175 487,1276 Q600,1377 647,1472 L763,1472 Z" fill="#231f20" stroke="#231f20" stroke-width="31.10"/><path transform="translate(289.54,451.40) scale(0.00658,-0.00658)" d="M763,0 L583,0 L583,1147 Q520,1087 437,1037 Q310,962 223,930 L223,1104 Q374,1175 487,1276 Q600,1377 647,1472 L763,1472 Z" fill="#231f20" stroke="#231f20" stroke-width="53.16"/></g>
<g transform="translate(0,459.50) scale(1,1.02) translate(0,-459.50)"><text x="454.70" y="459.50" letter-spacing="0.000" fill="#231f20" stroke="#231f20" stroke-width="0.35" ><tspan font-size="23.05" dy="0.00"> 0</tspan><tspan font-size="13.48" dy="-8.30">20</tspan></text><path transform="translate(454.70,459.50) scale(0.01125,-0.01125)" d="M763,0 L583,0 L583,1147 Q520,1087 437,1037 Q310,962 223,930 L223,1104 Q374,1175 487,1276 Q600,1377 647,1472 L763,1472 Z" fill="#231f20" stroke="#231f20" stroke-width="31.10"/></g>
<g transform="translate(0,459.50) scale(1,1.02) translate(0,-459.50)"><text x="644.10" y="459.50" letter-spacing="0.000" fill="#231f20" stroke="#231f20" stroke-width="0.35" ><tspan font-size="23.05" dy="0.00"> 0</tspan><tspan font-size="13.48" dy="-8.30">2 </tspan></text><path transform="translate(644.10,459.50) scale(0.01125,-0.01125)" d="M763,0 L583,0 L583,1147 Q520,1087 437,1037 Q310,962 223,930 L223,1104 Q374,1175 487,1276 Q600,1377 647,1472 L763,1472 Z" fill="#231f20" stroke="#231f20" stroke-width="31.10"/><path transform="translate(677.24,451.20) scale(0.00658,-0.00658)" d="M763,0 L583,0 L583,1147 Q520,1087 437,1037 Q310,962 223,930 L223,1104 Q374,1175 487,1276 Q600,1377 647,1472 L763,1472 Z" fill="#231f20" stroke="#231f20" stroke-width="53.16"/></g>
<g transform="translate(0,871.50) scale(1,1.02) translate(0,-871.50)"><text x="67.60" y="871.50" letter-spacing="0.000" fill="#231f20" stroke="#231f20" stroke-width="0.35" ><tspan font-size="23.05" dy="0.00"> 0</tspan><tspan font-size="13.48" dy="-8.30"> 8</tspan></text><path transform="translate(67.60,871.50) scale(0.01125,-0.01125)" d="M763,0 L583,0 L583,1147 Q520,1087 437,1037 Q310,962 223,930 L223,1104 Q374,1175 487,1276 Q600,1377 647,1472 L763,1472 Z" fill="#231f20" stroke="#231f20" stroke-width="31.10"/><path transform="translate(93.24,863.20) scale(0.00658,-0.00658)" d="M763,0 L583,0 L583,1147 Q520,1087 437,1037 Q310,962 223,930 L223,1104 Q374,1175 487,1276 Q600,1377 647,1472 L763,1472 Z" fill="#231f20" stroke="#231f20" stroke-width="53.16"/></g>
<g transform="translate(0,872.70) scale(1,1.02) translate(0,-872.70)"><text x="266.10" y="872.70" letter-spacing="0.000" fill="#231f20" stroke="#231f20" stroke-width="0.35" ><tspan font-size="23.05" dy="0.00"> 0</tspan><tspan font-size="13.48" dy="-8.30"> 9</tspan></text><path transform="translate(266.10,872.70) scale(0.01125,-0.01125)" d="M763,0 L583,0 L583,1147 Q520,1087 437,1037 Q310,962 223,930 L223,1104 Q374,1175 487,1276 Q600,1377 647,1472 L763,1472 Z" fill="#231f20" stroke="#231f20" stroke-width="31.10"/><path transform="translate(291.74,864.40) scale(0.00658,-0.00658)" d="M763,0 L583,0 L583,1147 Q520,1087 437,1037 Q310,962 223,930 L223,1104 Q374,1175 487,1276 Q600,1377 647,1472 L763,1472 Z" fill="#231f20" stroke="#231f20" stroke-width="53.16"/></g>
<g transform="translate(0,872.50) scale(1,1.02) translate(0,-872.50)"><text x="456.90" y="872.50" letter-spacing="0.000" fill="#231f20" stroke="#231f20" stroke-width="0.35" ><tspan font-size="23.05" dy="0.00"> 0</tspan><tspan font-size="13.48" dy="-8.30">20</tspan></text><path transform="translate(456.90,872.50) scale(0.01125,-0.01125)" d="M763,0 L583,0 L583,1147 Q520,1087 437,1037 Q310,962 223,930 L223,1104 Q374,1175 487,1276 Q600,1377 647,1472 L763,1472 Z" fill="#231f20" stroke="#231f20" stroke-width="31.10"/></g>
<g transform="translate(0,872.50) scale(1,1.02) translate(0,-872.50)"><text x="646.80" y="872.50" letter-spacing="0.000" fill="#231f20" stroke="#231f20" stroke-width="0.35" ><tspan font-size="23.05" dy="0.00"> 0</tspan><tspan font-size="13.48" dy="-8.30">2 </tspan></text><path transform="translate(646.80,872.50) scale(0.01125,-0.01125)" d="M763,0 L583,0 L583,1147 Q520,1087 437,1037 Q310,962 223,930 L223,1104 Q374,1175 487,1276 Q600,1377 647,1472 L763,1472 Z" fill="#231f20" stroke="#231f20" stroke-width="31.10"/><path transform="translate(679.94,864.20) scale(0.00658,-0.00658)" d="M763,0 L583,0 L583,1147 Q520,1087 437,1037 Q310,962 223,930 L223,1104 Q374,1175 487,1276 Q600,1377 647,1472 L763,1472 Z" fill="#231f20" stroke="#231f20" stroke-width="53.16"/></g>
<g><text x="144.00" y="261.30" letter-spacing="0.000" fill="#231f20" stroke="#231f20" stroke-width="0.35" ><tspan font-size="19.27" dy="0.00">Orihashi et al.</tspan></text></g>
<g><text x="144.00" y="288.40" letter-spacing="0.000" fill="#231f20" stroke="#231f20" stroke-width="0.35" ><tspan font-size="19.27" dy="0.00">Ortiz et al.</tspan></text></g>
<g><text x="144.00" y="315.40" letter-spacing="0.000" fill="#231f20" stroke="#231f20" stroke-width="0.35" ><tspan font-size="19.27" dy="0.00">Kim et al.</tspan></text></g>
<g><text x="144.00" y="342.70" letter-spacing="0.000" fill="#231f20" stroke="#231f20" stroke-width="0.35" ><tspan font-size="19.27" dy="0.00">Pang et al.</tspan></text></g>
<g><text x="144.00" y="369.60" letter-spacing="0.000" fill="#231f20" stroke="#231f20" stroke-width="0.35" ><tspan font-size="19.27" dy="0.00">Banik et al.</tspan></text></g>
<g><text x="145.00" y="396.50" letter-spacing="0.000" fill="#231f20" stroke="#231f20" stroke-width="0.35" ><tspan font-size="19.27" dy="0.00">Zhang et al.</tspan></text></g>
<g><text x="299.00" y="261.30" letter-spacing="0.000" fill="#231f20" stroke="#231f20" stroke-width="0.35" ><tspan font-size="19.27" dy="0.00">Andreev et al.</tspan></text></g>
<g><text x="297.00" y="288.10" letter-spacing="0.000" fill="#231f20" stroke="#231f20" stroke-width="0.35" ><tspan font-size="19.27" dy="0.00">Koumoulis et al.</tspan></text></g>
<g><text x="297.00" y="314.90" letter-spacing="0.000" fill="#231f20" stroke="#231f20" stroke-width="0.35" ><tspan font-size="19.27" dy="0.00">Han et al.</tspan></text></g>
<g><text x="298.00" y="342.80" letter-spacing="0.000" fill="#231f20" stroke="#231f20" stroke-width="0.35" ><tspan font-size="19.27" dy="0.00">This work</tspan></text></g>
<g transform="translate(25.60,451.00) rotate(-90)"><g><text x="0.00" y="0.00" letter-spacing="0.000" fill="#231f20" stroke="#231f20" stroke-width="0.35" ><tspan font-size="27.29" dy="0.00">Seebeck coefficient, |S| (μV K</tspan><tspan font-size="14.73" dy="-9.28">- </tspan><tspan font-size="27.29" dy="9.28">)</tspan></text><path transform="translate(365.44,-9.28) scale(0.00719,-0.00719)" d="M763,0 L583,0 L583,1147 Q520,1087 437,1037 Q310,962 223,930 L223,1104 Q374,1175 487,1276 Q600,1377 647,1472 L763,1472 Z" fill="#231f20" stroke="#231f20" stroke-width="48.65"/></g></g>
<g transform="translate(20.90,792.90) rotate(-90)"><g><text x="0.00" y="0.00" letter-spacing="0.000" fill="#231f20" stroke="#231f20" stroke-width="0.35" ><tspan font-size="27.12" dy="0.00">Effective mass, m</tspan><tspan font-size="13.56" dy="-10.04">*</tspan><tspan font-size="27.12" dy="10.04">/m</tspan><tspan font-size="15.46" dy="9.22">e</tspan></text></g></g>
<g><text x="190.00" y="910.00" letter-spacing="0.000" fill="#231f20" stroke="#231f20" stroke-width="0.35" ><tspan font-size="27.02" dy="0.00">Carrier concentration, n (cm</tspan><tspan font-size="17.29" dy="-5.13">-3</tspan><tspan font-size="27.02" dy="5.13">)</tspan></text></g>
<g><text x="381.00" y="372.30" letter-spacing="0.000" fill="#4a889b" stroke="#4a889b" stroke-width="0.35" ><tspan font-size="19.00" dy="0.00">3D S </tspan><tspan font-size="15.20" dy="0.00">∝</tspan><tspan font-size="19.00" dy="0.00"> n</tspan><tspan font-size="11.78" dy="-7.60">-2/3</tspan></text></g>
<g><text x="380.00" y="404.60" letter-spacing="0.000" fill="#c4413c" stroke="#c4413c" stroke-width="0.35" ><tspan font-size="19.47" dy="0.00"> D S </tspan><tspan font-size="15.57" dy="0.00">∝</tspan><tspan font-size="19.47" dy="0.00"> n</tspan><tspan font-size="12.07" dy="-7.79">-2</tspan></text><path transform="translate(380.00,404.60) scale(0.00951,-0.00951)" d="M763,0 L583,0 L583,1147 Q520,1087 437,1037 Q310,962 223,930 L223,1104 Q374,1175 487,1276 Q600,1377 647,1472 L763,1472 Z" fill="#c4413c" stroke="#c4413c" stroke-width="36.82"/></g>
<g><text x="223.00" y="776.60" letter-spacing="0.000" fill="#e06464" stroke="#e06464" stroke-width="0.35" ><tspan font-size="19.46" dy="0.00">m</tspan><tspan font-size="11.29" dy="-7.00">*</tspan><tspan font-size="19.46" dy="7.00">/m</tspan><tspan font-size="11.29" dy="6.42">e</tspan><tspan font-size="19.46" dy="-6.42">≈3.3× 0</tspan><tspan font-size="11.29" dy="-7.00">-4</tspan></text><path transform="translate(320.58,776.60) scale(0.00950,-0.00950)" d="M763,0 L583,0 L583,1147 Q520,1087 437,1037 Q310,962 223,930 L223,1104 Q374,1175 487,1276 Q600,1377 647,1472 L763,1472 Z" fill="#e06464" stroke="#e06464" stroke-width="36.84"/></g>
</svg></body></html>
